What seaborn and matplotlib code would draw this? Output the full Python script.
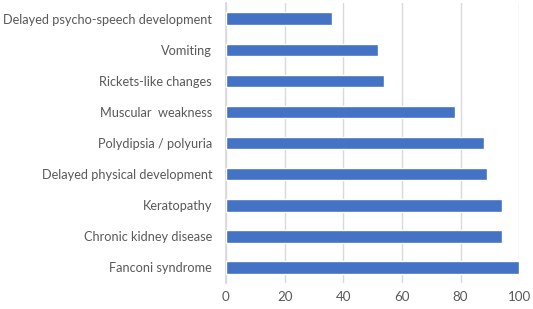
import pandas as pd
import matplotlib.pyplot as plt
import seaborn as sns

sns.set_theme(style="white")
plt.rcParams['font.family'] = ['Lato', 'DejaVu Sans']

symptoms = [
    "Delayed psycho-speech development",
    "Vomiting",
    "Rickets-like changes",
    "Muscular  weakness",
    "Polydipsia / polyuria",
    "Delayed physical development",
    "Keratopathy",
    "Chronic kidney disease",
    "Fanconi syndrome",
]
percent = [36, 52, 54, 78, 88, 89, 94, 94, 100]
x_ticks = [0, 20, 40, 60, 80, 100]

df = pd.DataFrame({"symptom": symptoms, "percent": percent})

fig = plt.figure(figsize=(5.33, 3.09), dpi=100)
ax = fig.add_axes([0.424, 0.084, 0.55, 0.906])

sns.barplot(data=df, x="percent", y="symptom", color="#4472C4",
            width=0.4, saturation=1, ax=ax, zorder=3)

ax.set_xlim(0, 100)
ax.set_ylim(8.5, -0.5)
ax.set_xticks(x_ticks)
ax.grid(axis="x", color="#D9D9D9", linewidth=1, zorder=0)
for s in ["top", "right", "bottom"]:
    ax.spines[s].set_visible(False)
ax.spines["left"].set_color("#D9D9D9")
ax.set_xlabel("")
ax.set_ylabel("")
ax.tick_params(axis="y", length=0, labelsize=9.2, labelcolor="#595959", pad=10)
ax.tick_params(axis="x", length=0, labelsize=9.6, labelcolor="#595959", pad=6)

fig.savefig("out.png", dpi=100)
